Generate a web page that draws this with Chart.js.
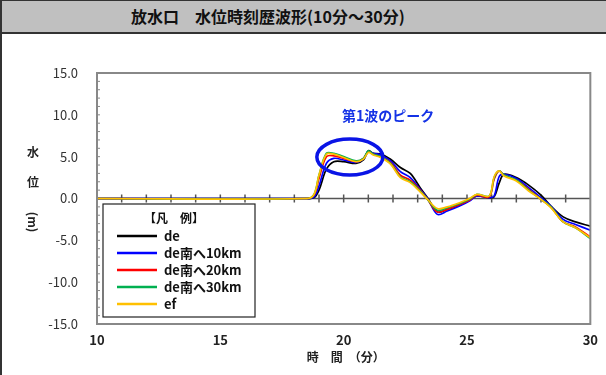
<!DOCTYPE html>
<html>
<head>
<meta charset="utf-8">
<title>放水口 水位時刻歴波形</title>
<script src="https://cdn.jsdelivr.net/npm/chart.js"></script>
<style>
  body { margin: 0; background: #fff; }
  .frame { position: relative; width: 604px; height: 375px; border-left: 2px solid #333; overflow: hidden; }
  .head { height: 31px; background: #c0c0c0; border-top: 1px solid #333; border-bottom: 2px solid #333;
          font: bold 16px "Noto Sans CJK JP", sans-serif; color: #111; line-height: 31px; padding-left: 129px; }
  .plot { position: absolute; left: -2px; top: 34px; width: 606px; height: 341px; }
</style>
</head>
<body>
<div class="frame">
  <div class="head">放水口　水位時刻歴波形(10分～30分)</div>
  <div class="plot"><canvas id="wave" width="606" height="341"></canvas></div>
</div>
<script>
// time (minutes)
const times = [10, 18.5, 18.8, 19.0, 19.3, 19.6, 20.0, 20.5, 20.8, 21.0, 21.2, 21.5, 21.9, 22.3, 22.7,
               23.1, 23.4, 23.8, 24.2, 24.7, 25.1, 25.4, 25.9, 26.1, 26.3, 26.5, 27.0, 27.5, 28.0,
               28.4, 28.9, 29.4, 30];

// water level (m)
const levelDe = [0, 0, 0.1, 1.0, 3.5, 4.4, 4.4, 4.2, 4.6, 5.7, 5.4, 5.3, 4.7, 3.7, 3.0,
                 1.3, 0.1, -1.6, -1.3, -0.8, -0.2, 0.3, 0.1, 0.2, 1.8, 2.9, 2.5, 1.6, 0.4,
                 -0.9, -2.2, -2.8, -3.3];
const levelS10 = [0, 0, 0.2, 1.5, 4.2, 4.8, 4.6, 4.3, 4.7, 5.6, 5.4, 5.2, 4.5, 3.2, 2.5,
                  1.1, 0.0, -1.9, -1.5, -0.9, -0.3, 0.3, 0.1, 0.3, 2.6, 2.9, 2.4, 1.3, 0.1,
                  -0.9, -2.5, -3.1, -3.8];
const levelS20 = [0, 0, 0.4, 2.4, 5.0, 5.1, 4.8, 4.4, 4.8, 5.6, 5.3, 5.0, 4.3, 2.8, 2.2,
                  1.0, -0.1, -1.6, -1.3, -0.7, -0.2, 0.4, 0.2, 2.3, 3.3, 2.8, 2.2, 1.1, -0.1,
                  -1.0, -2.8, -3.4, -4.6];
const levelS30 = [0, 0, 0.5, 2.8, 5.4, 5.4, 5.0, 4.5, 4.8, 5.7, 5.3, 5.0, 4.2, 2.6, 2.0,
                  0.9, -0.1, -1.4, -1.1, -0.6, -0.1, 0.5, 0.3, 2.5, 3.3, 2.8, 2.2, 1.0, -0.1,
                  -1.0, -2.8, -3.5, -4.8];
const levelEf = [0, 0, 0.5, 2.8, 5.3, 5.3, 4.9, 4.4, 4.7, 5.5, 5.2, 4.9, 4.1, 2.5, 1.9,
                 0.8, -0.1, -1.2, -1.0, -0.5, 0.0, 0.5, 0.3, 2.6, 3.3, 2.7, 2.1, 0.9, -0.1,
                 -1.1, -2.8, -3.5, -4.7];

const seriesNames = ['de', 'de南へ10km', 'de南へ20km', 'de南へ30km', 'ef'];
const seriesColors = ['#000000', '#0000ff', '#ff0000', '#00b050', '#ffc000'];
const allLevels = [levelDe, levelS10, levelS20, levelS30, levelEf];

const FONT = '"Noto Sans CJK JP", sans-serif';

const datasets = allLevels.map((lv, k) => ({
    label: seriesNames[k],
    data: times.map((t, i) => ({ x: t, y: lv[i] })),
    borderColor: seriesColors[k],
    borderWidth: 1.7,
    pointRadius: 0,
    tension: 0.35,
    order: 5 - k
}));

// frame, zero line, minor ticks, axis titles, legend box and annotation
const decorPlugin = {
    id: 'decor',
    beforeDatasetsDraw(chart) {
        const { ctx, chartArea: a, scales: { x, y } } = chart;
        ctx.save();
        const y0 = y.getPixelForValue(0);
        ctx.strokeStyle = '#555';
        ctx.lineWidth = 1.5;
        ctx.beginPath();
        ctx.moveTo(a.left, y0); ctx.lineTo(a.right, y0);
        for (let t = 11; t < 30; t++) {
            const px = x.getPixelForValue(t);
            ctx.moveTo(px, y0 - 4); ctx.lineTo(px, y0 + 4);
        }
        ctx.stroke();
        ctx.strokeStyle = '#888';
        ctx.lineWidth = 1;
        ctx.beginPath();
        for (let v = -14; v < 15; v++) {
            const py = y.getPixelForValue(v);
            ctx.moveTo(a.left, py); ctx.lineTo(a.left + 3, py);
        }
        ctx.stroke();
        ctx.restore();
    },
    afterDatasetsDraw(chart) {
        const { ctx, chartArea: a, scales: { x, y } } = chart;
        ctx.save();
        ctx.strokeStyle = '#888';
        ctx.lineWidth = 2;
        ctx.strokeRect(a.left, a.top, a.right - a.left, a.bottom - a.top);

        // y axis title
        ctx.fillStyle = '#222';
        ctx.font = 'bold 12px ' + FONT;
        ctx.textAlign = 'center';
        ctx.textBaseline = 'middle';
        ctx.fillText('水', 33, 118);
        ctx.fillText('位', 33, 148);
        ctx.save();
        ctx.translate(33, 188);
        ctx.rotate(Math.PI / 2);
        ctx.fillText('(m)', 0, 0);
        ctx.restore();

        // x axis title
        ctx.fillText('時　間　（分）', (a.left + a.right) / 2 + 2, 323);

        // peak annotation
        const cx = x.getPixelForValue(20.25), cy = y.getPixelForValue(4.95);
        ctx.strokeStyle = '#0a14e6';
        ctx.lineWidth = 3.5;
        ctx.beginPath();
        ctx.ellipse(cx, cy, 33, 18, 0, 0, Math.PI * 2);
        ctx.stroke();
        ctx.fillStyle = '#1432e6';
        ctx.font = 'bold 14px ' + FONT;
        ctx.fillText('第1波のピーク', x.getPixelForValue(21.8), y.getPixelForValue(9.9));

        // legend box
        const lx = 103, ly = 170, lw = 152, lh = 113;
        ctx.fillStyle = '#fff';
        ctx.fillRect(lx, ly, lw, lh);
        ctx.strokeStyle = '#222';
        ctx.lineWidth = 1.2;
        ctx.strokeRect(lx, ly, lw, lh);
        ctx.fillStyle = '#111';
        ctx.font = 'bold 12px ' + FONT;
        ctx.fillText('【凡　例】', lx + 71, ly + 14);
        ctx.textAlign = 'left';
        ctx.font = 'bold 13px ' + FONT;
        chart.data.datasets.forEach((ds, i) => {
            const ry = ly + 32 + i * 17;
            ctx.strokeStyle = ds.borderColor;
            ctx.lineWidth = 2.5;
            ctx.beginPath();
            ctx.moveTo(lx + 14, ry); ctx.lineTo(lx + 54, ry);
            ctx.stroke();
            ctx.fillStyle = '#111';
            ctx.fillText(ds.label, lx + 61, ry);
        });
        ctx.restore();
    }
};

new Chart(document.getElementById('wave'), {
    type: 'line',
    data: { datasets: datasets },
    options: {
        responsive: false,
        animation: false,
        layout: { padding: { top: 39, right: 14, left: 0, bottom: 0 } },
        plugins: { legend: { display: false }, tooltip: { enabled: false } },
        scales: {
            x: {
                type: 'linear', min: 10, max: 30,
                grid: { display: false, drawTicks: false },
                border: { display: false },
                afterFit(s) { s.height = 51; },
                ticks: {
                    stepSize: 5, padding: 8, color: '#222',
                    font: { family: FONT, size: 13, weight: 'bold' }
                }
            },
            y: {
                min: -15, max: 15,
                grid: { display: false, drawTicks: false },
                border: { display: false },
                afterFit(s) { s.width = 97; },
                ticks: {
                    stepSize: 5, padding: 19, color: '#333',
                    font: { family: FONT, size: 13 },
                    callback: v => v.toFixed(1)
                }
            }
        }
    },
    plugins: [decorPlugin]
});
</script>
</body>
</html>
